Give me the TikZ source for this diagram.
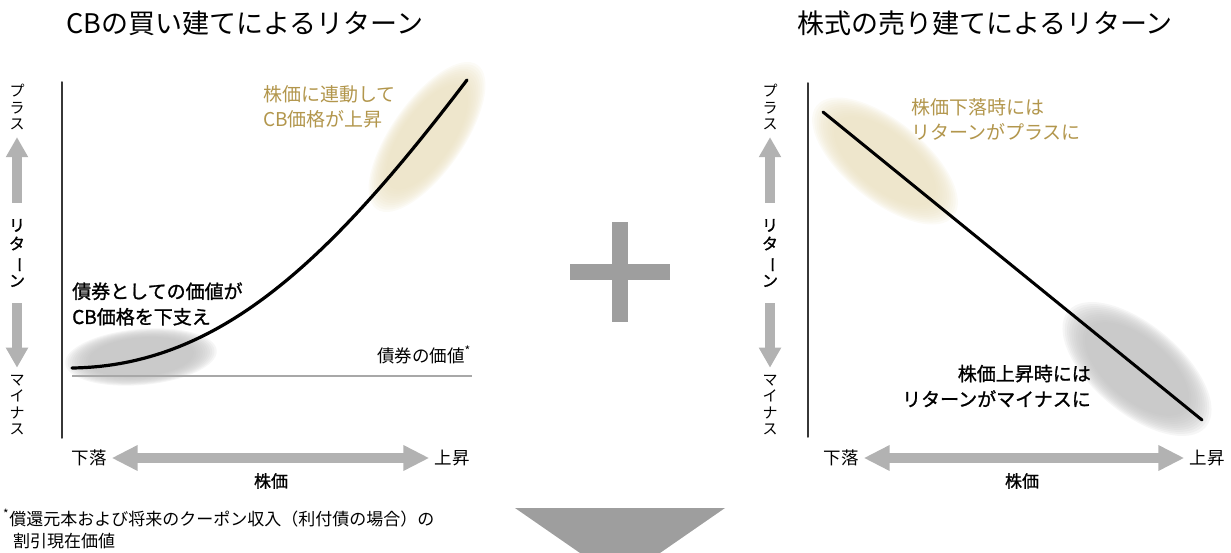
\documentclass[tikz,border=0pt]{standalone}
\usepackage{fontspec}
\setmainfont{Noto Sans CJK JP}
\newfontfamily\medjp{Noto Sans CJK JP}[FakeBold=1.2]
\usepackage{graphicx}
\usetikzlibrary{arrows.meta}
\definecolor{goldtext}{RGB}{178,150,76}
\definecolor{goldblob}{RGB}{234,224,192}
\definecolor{grayblob}{RGB}{190,190,190}
\definecolor{arrowgray}{RGB}{178,178,178}
\definecolor{axisgray}{RGB}{55,55,55}
\definecolor{bondgray}{RGB}{168,168,168}
\definecolor{signgray}{RGB}{158,158,158}
\newcommand{\vchoon}{\rotatebox[origin=c]{-90}{ー}}
% soft blob: center, angle, rx, ry, colour
\newcommand{\softblob}[5]{%
  \foreach \s in {1.00,0.97,...,0.70}
    \fill[#5, opacity=0.14, rotate around={#2:#1}] #1 ellipse ({#3*\s} and {#4*\s});}

\begin{document}
\begin{tikzpicture}[line cap=round,line join=round,x=1pt,y=-1pt,
  titletext/.style={font=\fontsize{27}{30}\selectfont},
  vlabel/.style={align=center,inner sep=0pt,font=\fontsize{15}{16.5}\selectfont},
  vlabelbold/.style={vlabel,font=\medjp\fontsize{16}{18.5}\selectfont},
  axlabel/.style={inner sep=0pt,font=\fontsize{17.5}{20}\selectfont},
  axname/.style={inner sep=0pt,font=\medjp\fontsize{17}{20}\selectfont},
  goldnote/.style={inner sep=0pt,text=goldtext,font=\fontsize{19}{25}\selectfont},
  blacknote/.style={inner sep=0pt,font=\medjp\fontsize{19}{25.5}\selectfont},
  footnote/.style={anchor=west,inner sep=0pt,font=\fontsize{17}{21}\selectfont},
  axis/.style={draw=axisgray,line width=1.5pt},
  varrow/.style={draw=arrowgray,line width=10pt,line cap=butt,-{Triangle[width=21pt,length=20pt]}},
  harrow/.style={draw=arrowgray,line width=10pt,line cap=butt,{Triangle[width=24pt,length=26pt]}-{Triangle[width=24pt,length=26pt]},shorten <=5pt,shorten >=5pt},
  payoff/.style={draw=black,line width=3.2pt}]
\useasboundingbox (0,0) rectangle (1231,553);

% titles
\node[titletext] (ltitle) at (245,23) {CBの買い建てによるリターン};
\node[titletext] (rtitle) at (985,23) {株式の売り建てによるリターン};

% ---- left chart
\softblob{(141,357)}{5}{76}{28}{grayblob}
\softblob{(427,137)}{55}{88}{36}{goldblob}
\draw[axis] (62,82) -- (62,438);
\draw[draw=bondgray,line width=2pt,line cap=butt] (72,376) -- (472,376);
\draw[payoff] (72,368) .. controls (220,366) and (330,260) .. (467,80);
\node[axlabel,anchor=east] (lbond) at (471,355) {債券の価値\textsuperscript{*}};
\node[goldnote,anchor=west,align=left] (lgold) at (263,107) {株価に連動して\\CB価格が上昇};
\node[blacknote,anchor=west,align=left] (lfloor) at (72,304) {債券としての価値が\\CB価格を下支え};

\node[vlabel] (lplus) at (17,107) {プ\\ラ\\ス};
\node[vlabelbold] (lret) at (17,253) {リ\\タ\\\vchoon\\ン};
\node[vlabel] (lminus) at (17,405) {マ\\イ\\ナ\\ス};
\draw[varrow,shorten <=16pt,shorten >=7pt] (lret.north) -- (lplus.south);
\draw[varrow,shorten <=16pt,shorten >=7pt] (lret.south) -- (lminus.north);

\node[axlabel] (lfall) at (89,458) {下落};
\node[axlabel] (lrise) at (452,458) {上昇};
\draw[harrow] (lfall.east) -- (lrise.west);
\node[axname] (lprice) at (271,481) {株価};

% ---- plus sign
\fill[signgray] (570,264) rectangle (670,280);
\fill[signgray] (612,222) rectangle (628,322);

% ---- right chart
\softblob{(885,161)}{-39}{88}{40}{goldblob}
\softblob{(1137,369)}{-40}{90}{44}{grayblob}
\draw[axis] (808,83) -- (808,437);
\draw[payoff,line width=3pt] (823,112) -- (1202,420);
\node[goldnote,anchor=west,align=left] (rgold) at (911,119) {株価下落時には\\リターンがプラスに};
\node[blacknote,anchor=east,align=right] (rloss) at (1091,386) {株価上昇時には\\リターンがマイナスに};

\node[vlabel] (rplus) at (770,107) {プ\\ラ\\ス};
\node[vlabelbold] (rret) at (770,253) {リ\\タ\\\vchoon\\ン};
\node[vlabel] (rminus) at (770,405) {マ\\イ\\ナ\\ス};
\draw[varrow,shorten <=16pt,shorten >=7pt] (rret.north) -- (rplus.south);
\draw[varrow,shorten <=16pt,shorten >=7pt] (rret.south) -- (rminus.north);

\node[axlabel] (rfall) at (841,458) {下落};
\node[axlabel] (rrise) at (1207,458) {上昇};
\draw[harrow] (rfall.east) -- (rrise.west);
\node[axname] (rprice) at (1022,481) {株価};

% ---- footnote and down arrow
\node[footnote] (note1) at (3,518) {\textsuperscript{*}償還元本および将来のクーポン収入（利付債の場合）の};
\node[footnote] (note2) at (13,541) {割引現在価値};
\fill[signgray] (515,508) -- (725,508) -- (660,553) -- (580,553) -- cycle;
\end{tikzpicture}
\end{document}
